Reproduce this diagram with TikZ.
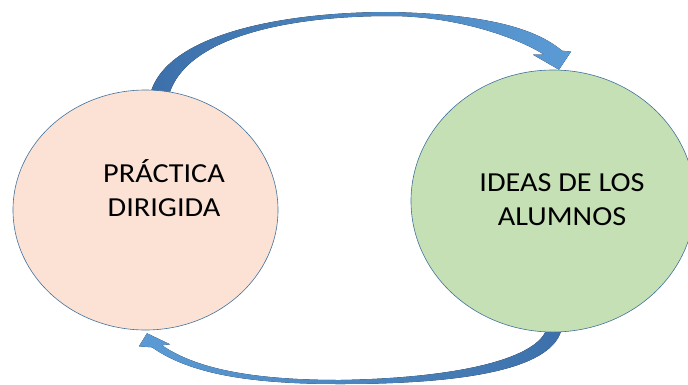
\documentclass[tikz,border=0pt]{standalone}
\usepackage{fontspec}
\newfontfamily\calib{Carlito}[FakeStretch=1.1]
\usetikzlibrary{shapes.geometric,calc,backgrounds}
\definecolor{PeachClr}{HTML}{FBE2D5}
\definecolor{GreenClr}{HTML}{C5E0B4}
\definecolor{EdgeClr}{HTML}{41719C}
\definecolor{ArrowDark}{HTML}{3D70AA}
\definecolor{ArrowLight}{HTML}{5B9BD5}

\begin{document}
\begin{tikzpicture}[x=1pt,y=-1pt,
  bubble/.style={ellipse,draw=EdgeClr,line width=0.6pt,inner sep=0pt},
  caption/.style={align=center,font=\calib\fontsize{27.5}{34}\selectfont}]
\useasboundingbox (0,0) rectangle (688,384);

\node[bubble,fill=PeachClr,minimum width=265pt,minimum height=240pt] (practica) at (145.5,210) {};
\node[bubble,fill=GreenClr,minimum width=284pt,minimum height=262pt] (ideas) at (553,201) {};

\node[caption] (practicaTxt) at ($(practica)+(18.5,-22)$) {PRÁCTICA\\DIRIGIDA};
\node[caption] (ideasTxt) at ($(ideas)+(9,-1)$) {IDEAS DE LOS\\ALUMNOS};

\coordinate (topStart) at ($(practica.north)+(14,0)$);
\coordinate (topTip) at ($(ideas.north)+(6,0)$);
\coordinate (botStart) at ($(ideas.south)+(1,0)$);
\coordinate (botTip) at ($(practica.south)+(1.5,3)$);

\begin{pgfonlayer}{background}
% upper arrow
\fill[left color=ArrowDark,right color=ArrowLight]
  ($(topStart)+(-9.5,5)$) .. controls (165,35) and (280,12) .. (390,12)
  .. controls (478,14) and (533,26) .. ($(topTip)+(3,-19)$)
  -- ($(topTip)+(12,-18)$) -- (topTip) -- ($(topTip)+(-26,-15)$)
  -- ($(topTip)+(-15,-15)$) .. controls (522,40) and (460,16) .. (390,16)
  .. controls (285,16) and (186,38) .. ($(topStart)+(9.5,5)$) -- cycle;
% lower arrow
\fill[left color=ArrowLight,right color=ArrowDark]
  ($(botStart)+(-7,-5)$) .. controls (540,358) and (460,378) .. (340,380)
  .. controls (250,380) and (195,368) .. ($(botTip)+(15,12)$)
  -- ($(botTip)+(23,11)$) -- (botTip) -- ($(botTip)+(-8,13)$)
  -- ($(botTip)+(5,14)$) .. controls (190,374) and (250,384) .. (340,384)
  .. controls (470,384) and (555,368) .. ($(botStart)+(8,-5)$) -- cycle;
\end{pgfonlayer}
\end{tikzpicture}
\end{document}
